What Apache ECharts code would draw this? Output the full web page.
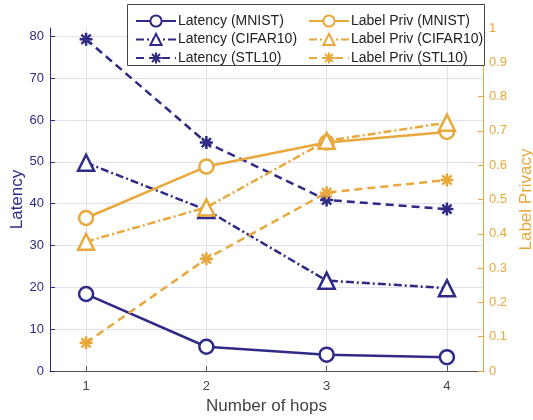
<!DOCTYPE html>
<html><head><meta charset="utf-8">
<script src="https://cdn.jsdelivr.net/npm/echarts@6/dist/echarts.min.js"></script>
<style>html,body{margin:0;padding:0;background:#fff}#c{width:533px;height:420px}</style>
</head><body><div id="c"></div>
<script>
const hops = [1, 2, 3, 4];
const latMNIST = [18.4, 5.8, 3.9, 3.3];
const latCIFAR = [49.8, 38.5, 21.6, 19.8];
const latSTL = [79.3, 54.6, 40.9, 38.7];
const privMNIST = [0.446, 0.596, 0.666, 0.697];
const privCIFAR = [0.377, 0.477, 0.671, 0.724];
const privSTL = [0.082, 0.327, 0.52, 0.557];
const latTicks = [0, 10, 20, 30, 40, 50, 60, 70, 80];
const privTicks = [0, 0.1, 0.2, 0.3, 0.4, 0.5, 0.6, 0.7, 0.8, 0.9, 1];

const NAVY = '#2F2A86';
const ORANGE = '#E8A83C';
const FONT = 'Liberation Sans, Arial, sans-serif';
const STAR = 'path://M0 -10 L0 10 M-10 0 L10 0 M-7.07 -7.07 L7.07 7.07 M-7.07 7.07 L7.07 -7.07';
const DASHDOT = [8, 3, 2, 3];
const DASH = [8, 5];

function pts(ys) { return hops.map((h, i) => [h, ys[i]]); }
function mk(name, ys, color, yIdx, symbol, dash, size) {
  const isStar = symbol === STAR;
  return {
    name, type: 'line', yAxisIndex: yIdx, data: pts(ys),
    symbol, symbolSize: size, showAllSymbol: true,
    lineStyle: { color, width: 2.5, type: dash },
    itemStyle: { color: isStar ? color : '#fff', borderColor: color, borderWidth: 2.5 },
    emphasis: { disabled: true }, z: 5
  };
}

const chart = echarts.init(document.getElementById('c'), null, { renderer: 'canvas' });
chart.setOption({
  animation: false,
  textStyle: { fontFamily: FONT },
  grid: { left: 50, right: 50, top: 28, bottom: 49, containLabel: false, outerBoundsMode: 'none' },
  xAxis: [{
    type: 'value', min: 0.7, max: 4.3, position: 'bottom',
    name: 'Number of hops', nameLocation: 'middle', nameGap: 26,
    nameTextStyle: { color: '#444', fontSize: 17, fontFamily: FONT },
    axisLine: { lineStyle: { color: '#555', width: 1 } },
    axisTick: { inside: true, length: 5, customValues: hops, lineStyle: { color: '#555' } },
    axisLabel: { customValues: hops, color: '#444', fontSize: 13, margin: 9, fontFamily: FONT },
    splitLine: { show: true, lineStyle: { color: '#E2E0EC', width: 1 } }
  }, {
    type: 'value', min: 0.7, max: 4.3, position: 'top',
    axisLine: { show: true, lineStyle: { color: '#555', width: 1 } },
    axisTick: { show: false }, axisLabel: { show: false }, splitLine: { show: false }
  }],
  yAxis: [{
    type: 'value', min: 0, max: 82, position: 'left',
    name: 'Latency', nameLocation: 'middle', nameGap: 24, nameRotate: 90, nameMoveOverlap: false,
    nameTextStyle: { color: NAVY, fontSize: 17, fontFamily: FONT },
    axisLine: { show: true, lineStyle: { color: NAVY, width: 1 } },
    axisTick: { show: true, inside: true, length: 5, customValues: latTicks, lineStyle: { color: NAVY } },
    axisLabel: { customValues: latTicks, color: NAVY, fontSize: 13, margin: 6, fontFamily: FONT },
    splitLine: { show: true, lineStyle: { color: '#E2E0EC', width: 1 } }
  }, {
    type: 'value', min: 0, max: 1, position: 'right',
    name: 'Label Privacy', nameLocation: 'middle', nameGap: 28, nameRotate: 90,
    nameTextStyle: { color: ORANGE, fontSize: 17, fontFamily: FONT },
    axisLine: { show: true, lineStyle: { color: ORANGE, width: 1 } },
    axisTick: { show: true, inside: true, length: 5, customValues: privTicks, lineStyle: { color: ORANGE } },
    axisLabel: { customValues: privTicks, color: ORANGE, fontSize: 13, margin: 6, fontFamily: FONT },
    splitLine: { show: false }
  }],
  legend: [{
    orient: 'vertical', left: 130, top: 9, z: 200,
    itemWidth: 40, itemHeight: 14, itemGap: 4.5,
    textStyle: { color: '#222', fontSize: 14, fontFamily: FONT, padding: [0, 0, 0, -3] },
    data: ['Latency (MNIST)', 'Latency (CIFAR10)', 'Latency (STL10)'],
    selectedMode: false
  }, {
    orient: 'vertical', left: 303, top: 9, z: 200,
    itemWidth: 40, itemHeight: 14, itemGap: 4.5,
    textStyle: { color: '#222', fontSize: 14, fontFamily: FONT, padding: [0, 0, 0, -3] },
    data: ['Label Priv (MNIST)', 'Label Priv (CIFAR10)', 'Label Priv (STL10)'],
    selectedMode: false
  }],
  graphic: [{
    type: 'rect', z: 100, shape: { x: 127.5, y: 4.5, width: 357, height: 61 },
    style: { fill: '#fff', stroke: '#444', lineWidth: 1 }
  }],
  series: [
    mk('Latency (MNIST)', latMNIST, NAVY, 0, 'circle', 'solid', 14),
    mk('Latency (CIFAR10)', latCIFAR, NAVY, 0, 'triangle', DASHDOT, 16),
    mk('Latency (STL10)', latSTL, NAVY, 0, STAR, DASH, 13),
    mk('Label Priv (MNIST)', privMNIST, ORANGE, 1, 'circle', 'solid', 14),
    mk('Label Priv (CIFAR10)', privCIFAR, ORANGE, 1, 'triangle', DASHDOT, 16),
    mk('Label Priv (STL10)', privSTL, ORANGE, 1, STAR, DASH, 13)
  ]
});
</script></body></html>
